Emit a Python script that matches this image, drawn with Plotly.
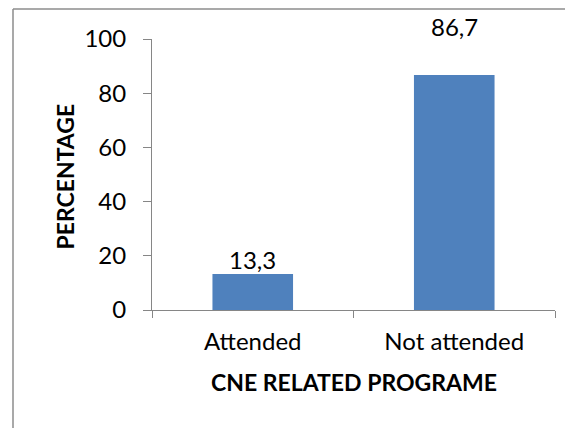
import plotly.graph_objects as go

categories = ["Attended", "Not attended"]
values = [13.3, 86.7]
value_labels = ["13,3", "86,7"]
y_ticks = [0, 20, 40, 60, 80, 100]
x_title = "CNE RELATED PROGRAME"
y_title = "PERCENTAGE"

# page body has an 8px margin; work in window pixel coordinates
OFF = 8
W, H = 573 - OFF, 428 - OFF
L, R, T, B = 152 - OFF, 18, 39 - OFF, 118
pw, ph = W - L - R, H - T - B

def px_x(p):
    return (p - OFF - L) / pw

def px_y(p):
    return (H - B - (p - OFF)) / ph

FONT = "Lato"
axis_col = "#868686"

fig = go.Figure()
fig.add_trace(go.Bar(
    x=categories, y=values,
    marker=dict(color="#4F81BD", line=dict(color="#4F81BD", width=0)),
    hoverinfo="skip",
))

label_shift = [-2, 32]
for c, v, t, s in zip(categories, values, value_labels, label_shift):
    fig.add_annotation(x=c, y=v, text=t, showarrow=False, xref="x", yref="y",
                       yanchor="bottom", yshift=s,
                       font=dict(family=FONT, size=24, color="#000000"))

fig.add_annotation(x=px_x(353.5), y=px_y(382), xref="paper", yref="paper",
                   text="<b>" + x_title + "</b>", showarrow=False,
                   xanchor="center", yanchor="middle",
                   font=dict(family=FONT, size=23, color="#000000"))
fig.add_annotation(x=px_x(64.5), y=px_y(177), xref="paper", yref="paper",
                   text="<b>" + y_title + "</b>", showarrow=False, textangle=-90,
                   xanchor="center", yanchor="middle",
                   font=dict(family=FONT, size=23, color="#000000"))

# outer chart border (top and left edges visible)
bx, by = px_x(13), px_y(9)
fig.add_shape(type="line", xref="paper", yref="paper", x0=bx, x1=1.2, y0=by, y1=by,
              line=dict(color="#8c8c8c", width=1.5))
fig.add_shape(type="line", xref="paper", yref="paper", x0=bx, x1=bx, y0=by, y1=-0.6,
              line=dict(color="#8c8c8c", width=1.5))

fig.update_layout(
    width=W, height=H,
    margin=dict(l=L, r=R, t=T, b=B, pad=0),
    paper_bgcolor="white", plot_bgcolor="white",
    bargap=0.6, showlegend=False,
    font=dict(family=FONT, size=24, color="#000000"),
)
fig.update_xaxes(
    type="category", showline=True, linecolor=axis_col, linewidth=1,
    ticks="outside", tickson="boundaries", ticklen=7, tickcolor=axis_col,
    showgrid=False, zeroline=False, ticklabelstandoff=10,
    tickfont=dict(family=FONT, size=24, color="#000000"),
)
fig.update_yaxes(
    range=[0, 100], tickvals=y_ticks, showline=True, linecolor=axis_col, linewidth=1,
    ticks="outside", ticklen=8, tickcolor=axis_col, showgrid=False, zeroline=False,
    ticklabelstandoff=12,
    tickfont=dict(family=FONT, size=24, color="#000000"),
)

fig.write_html("out.html")
